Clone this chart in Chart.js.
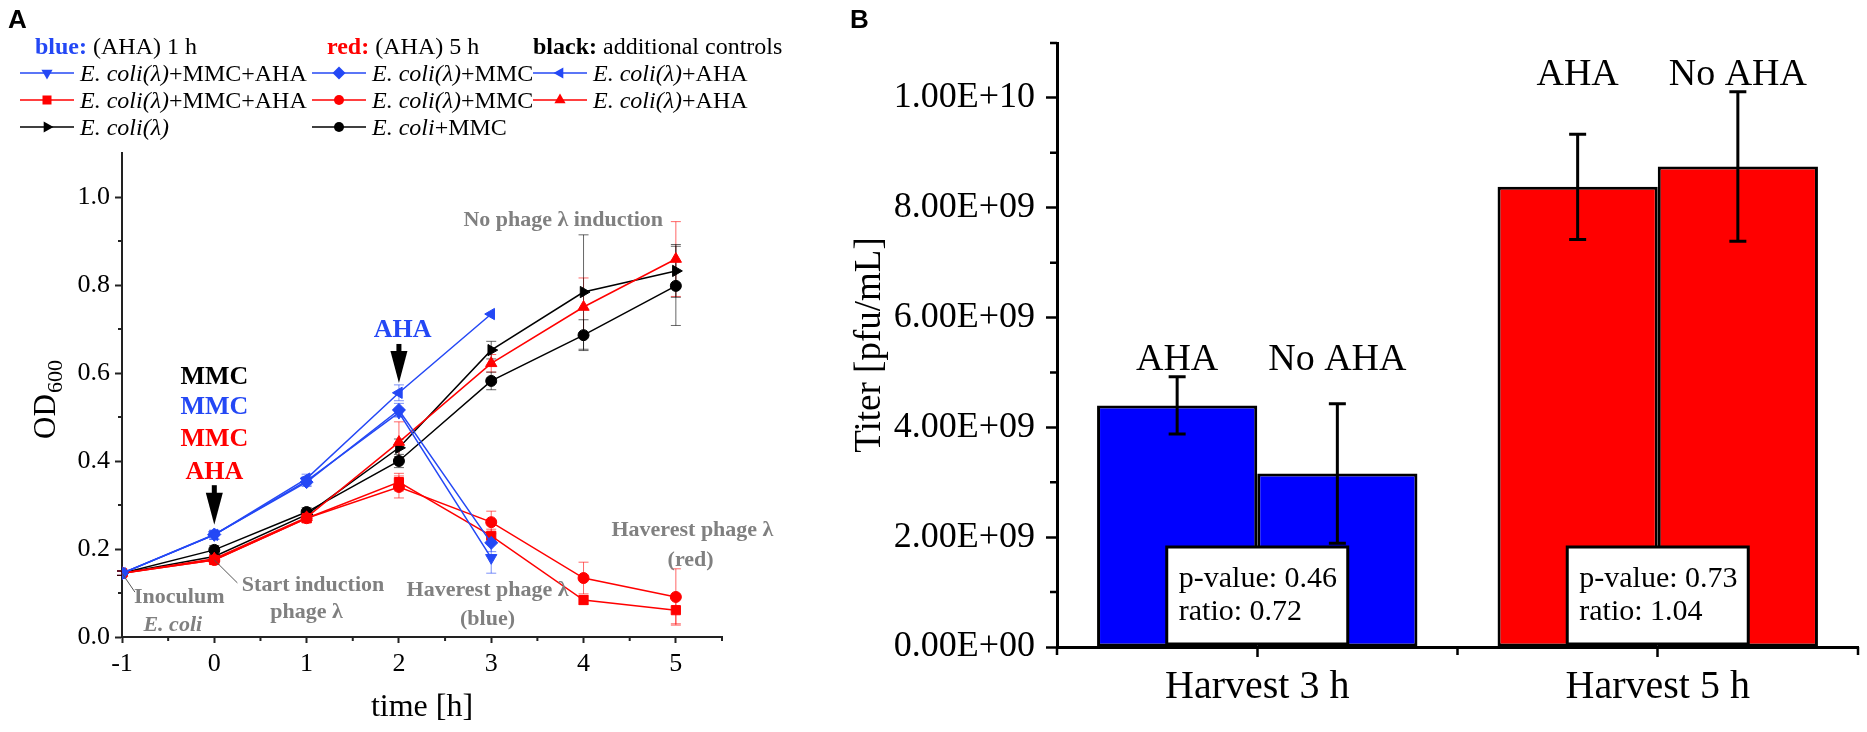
<!DOCTYPE html>
<html>
<head>
<meta charset="utf-8">
<script src="https://cdn.jsdelivr.net/npm/chart.js@4.4.0/dist/chart.umd.min.js"></script>
<style>
  html, body { margin: 0; padding: 0; background: #fff; }
  #page { position: relative; width: 1867px; height: 732px; overflow: hidden;
          font-family: 'Liberation Serif', 'Times New Roman', serif; color: #000; }
  #wrapA { position: absolute; left: 0; top: 0; width: 850px; height: 732px; }
  #wrapB { position: absolute; left: 820px; top: 0; width: 1047px; height: 732px; }
  .letter { position: absolute; font: bold 26px 'Liberation Sans', Arial, sans-serif; line-height: 26px; }
  #legendA { position: absolute; left: 0; top: 0; width: 850px; height: 150px; font-size: 24px; }
  .lg { position: absolute; white-space: nowrap; line-height: 26px; transform: translateY(-50%);
        display: flex; align-items: center; }
  .lg svg { margin-right: 6px; }
</style>
</head>
<body>
<div id="page">
  <div id="wrapA"><canvas id="chartA"></canvas></div>
  <div id="wrapB"><canvas id="chartB"></canvas></div>
  <div id="legendA"></div>
  <div class="letter" style="left:8px;top:6px">A</div>
  <div class="letter" style="left:850px;top:6px">B</div>
</div>
<script>
// ---- panel A: growth curves (OD600) ----
const hours = [-1, 0, 1, 2, 3, 4, 5];
const odTicks = [0, 0.2, 0.4, 0.6, 0.8, 1.0];

const blueMmcAha = [0.145, 0.232, 0.355, 0.510, 0.180];
const blueMmc    = [0.145, 0.233, 0.352, 0.516, 0.214];
const blueAha    = [0.145, 0.232, 0.360, 0.555, 0.734];
const redMmcAha  = [0.145, 0.175, 0.270, 0.352, 0.230, 0.084, 0.061];
const redMmc     = [0.145, 0.175, 0.270, 0.341, 0.261, 0.134, 0.091];
const redAha     = [0.145, 0.178, 0.272, 0.443, 0.622, 0.750, 0.859];
const ctrlLambda = [0.145, 0.183, 0.278, 0.430, 0.652, 0.784, 0.832];
const ctrlMmc    = [0.145, 0.198, 0.284, 0.400, 0.582, 0.686, 0.798];

// standard deviations
const blueMmcAhaErr = [0.005, 0.010, 0.010, 0.010, 0.035];
const blueMmcErr    = [0.005, 0.010, 0.010, 0.015, 0.020];
const blueAhaErr    = [0.005, 0.010, 0.010, 0.018, 0];
const redMmcAhaErr  = [0.005, 0.010, 0.010, 0.020, 0.015, 0.010, 0.031];
const redMmcErr     = [0.005, 0.010, 0.010, 0.025, 0.025, 0.036, 0.064];
const redAhaErr     = [0.005, 0.010, 0.010, 0.046, 0.020, 0.066, 0.085];
const ctrlLambdaErr = [0.005, 0.010, 0.010, 0.020, 0.020, 0.130, 0.060];
const ctrlMmcErr    = [0.005, 0.010, 0.010, 0.015, 0.020, 0.035, 0.090];

// ---- panel B: phage titer ----
const harvestLabels = ['Harvest 3 h', 'Harvest 5 h'];
const titerTicks = [0, 2e9, 4e9, 6e9, 8e9, 1e10];
const titerAha      = [4.40e9, 8.38e9];
const titerNoAha    = [3.16e9, 8.75e9];
const titerAhaErr   = [0.52e9, 0.96e9];
const titerNoAhaErr = [1.27e9, 1.36e9];
const pValues = [0.46, 0.73];
const ratios  = [0.72, 1.04];

const BLUE = '#2448f5';
const RED = '#ff0000';
const GREY = '#808080';
const SERIF = "'Liberation Serif', 'Times New Roman', serif";

Chart.defaults.font.family = SERIF;
Chart.defaults.color = '#000';

const pts = ys => ys.map((y, i) => ({ x: hours[i], y }));

function series(label, ys, errs, color, style, rot, r) {
  return {
    label, data: pts(ys), errors: errs,
    borderColor: color, backgroundColor: color,
    pointStyle: style, pointRotation: rot, pointRadius: r, pointHoverRadius: r,
    pointBorderWidth: 1, borderWidth: 1.5, tension: 0
  };
}

// draws vertical error bars from dataset.errors
function drawErrors(chart, width, cap, alpha) {
  const ctx = chart.ctx, ys = chart.scales.y;
  chart.data.datasets.forEach((ds, di) => {
    if (!ds.errors) return;
    const meta = chart.getDatasetMeta(di);
    ctx.save();
    ctx.strokeStyle = ds.errorColor || ds.borderColor;
    ctx.globalAlpha = alpha;
    ctx.lineWidth = width;
    meta.data.forEach((el, i) => {
      const e = ds.errors[i];
      if (!e) return;
      const v = typeof ds.data[i] === 'object' ? ds.data[i].y : ds.data[i];
      const t = ys.getPixelForValue(v + e), b = ys.getPixelForValue(v - e);
      ctx.beginPath();
      ctx.moveTo(el.x, t); ctx.lineTo(el.x, b);
      ctx.moveTo(el.x - cap, t); ctx.lineTo(el.x + cap, t);
      ctx.moveTo(el.x - cap, b); ctx.lineTo(el.x + cap, b);
      ctx.stroke();
    });
    ctx.restore();
  });
}

// annotations of panel A, in data units
const arrowsA = [
  { x: 0, from: 0.345, to: 0.255 },
  { x: 2, from: 0.666, to: 0.577 }
];
const leadersA = [
  { from: [-1, 0.145], to: [-0.86, 0.102] },
  { from: [0, 0.175], to: [0.25, 0.123] }
];
const notesA = [
  { text: 'MMC', x: 0, y: 0.590, color: '#000', font: 'bold 26px' },
  { text: 'MMC', x: 0, y: 0.523, color: BLUE, font: 'bold 26px' },
  { text: 'MMC', x: 0, y: 0.450, color: RED, font: 'bold 26px' },
  { text: 'AHA', x: 0, y: 0.375, color: RED, font: 'bold 26px' },
  { text: 'AHA', x: 2.04, y: 0.698, color: BLUE, font: 'bold 26px' },
  { text: 'No phage λ induction', x: 3.78, y: 0.948, color: GREY, font: 'bold 22px' },
  { text: 'Inoculum', x: -0.38, y: 0.091, color: GREY, font: 'bold 22px' },
  { text: 'E. coli', x: -0.45, y: 0.027, color: GREY, font: 'italic bold 22px' },
  { text: 'Start induction', x: 1.07, y: 0.118, color: GREY, font: 'bold 22px' },
  { text: 'phage λ', x: 1.0, y: 0.055, color: GREY, font: 'bold 22px' },
  { text: 'Haverest phage λ', x: 2.96, y: 0.107, color: GREY, font: 'bold 22px' },
  { text: '(blue)', x: 2.96, y: 0.041, color: GREY, font: 'bold 22px' },
  { text: 'Haverest phage λ', x: 5.18, y: 0.243, color: GREY, font: 'bold 22px' },
  { text: '(red)', x: 5.16, y: 0.175, color: GREY, font: 'bold 22px' }
];

const decorA = {
  id: 'decorA',
  beforeDatasetsDraw(chart) { drawErrors(chart, 1, 5, 0.6); },
  afterDraw(chart) {
    const { ctx, chartArea: ca } = chart;
    const xs = chart.scales.x, ys = chart.scales.y;
    ctx.save();
    // minor ticks
    ctx.strokeStyle = '#222'; ctx.lineWidth = 2;
    ctx.beginPath();
    for (let v = -0.5; v <= 5.5; v += 1) {
      const px = xs.getPixelForValue(v);
      ctx.moveTo(px, ca.bottom); ctx.lineTo(px, ca.bottom + 4);
    }
    for (let v = 0.1; v < 1.05; v += 0.2) {
      const py = ys.getPixelForValue(v);
      ctx.moveTo(ca.left, py); ctx.lineTo(ca.left - 4, py);
    }
    ctx.stroke();
    // leader lines
    ctx.strokeStyle = '#555'; ctx.lineWidth = 1;
    leadersA.forEach(l => {
      ctx.beginPath();
      ctx.moveTo(xs.getPixelForValue(l.from[0]), ys.getPixelForValue(l.from[1]));
      ctx.lineTo(xs.getPixelForValue(l.to[0]), ys.getPixelForValue(l.to[1]));
      ctx.stroke();
    });
    // arrows
    ctx.fillStyle = '#000';
    arrowsA.forEach(a => {
      const px = xs.getPixelForValue(a.x);
      const top = ys.getPixelForValue(a.from), tip = ys.getPixelForValue(a.to);
      const neck = tip - 32;
      ctx.fillRect(px - 2.5, top, 5, neck - top + 1);
      ctx.beginPath();
      ctx.moveTo(px - 8.5, neck); ctx.lineTo(px + 8.5, neck); ctx.lineTo(px, tip);
      ctx.closePath(); ctx.fill();
    });
    // notes
    ctx.textAlign = 'center'; ctx.textBaseline = 'middle';
    notesA.forEach(n => {
      ctx.font = n.font + ' ' + SERIF;
      ctx.fillStyle = n.color;
      ctx.fillText(n.text, xs.getPixelForValue(n.x), ys.getPixelForValue(n.y));
    });
    // y title OD600 with subscript
    ctx.translate(47, (ca.top + ca.bottom) / 2 + 5);
    ctx.rotate(-Math.PI / 2);
    ctx.fillStyle = '#000';
    ctx.textAlign = 'left';
    ctx.font = '31px ' + SERIF;
    const wOD = ctx.measureText('OD').width;
    ctx.font = '22px ' + SERIF;
    const wSub = ctx.measureText('600').width;
    const x0 = -(wOD + wSub) / 2;
    ctx.font = '31px ' + SERIF;
    ctx.fillText('OD', x0, 0);
    ctx.font = '22px ' + SERIF;
    ctx.fillText('600', x0 + wOD + 1, 9);
    ctx.restore();
  }
};

const chartA = new Chart(document.getElementById('chartA'), {
  type: 'line',
  data: {
    datasets: [
      series('E. coli(λ)+MMC+AHA', blueMmcAha, blueMmcAhaErr, BLUE, 'triangle', 180, 6.5),
      series('E. coli(λ)+MMC', blueMmc, blueMmcErr, BLUE, 'rectRot', 0, 6.5),
      series('E. coli(λ)+AHA', blueAha, blueAhaErr, BLUE, 'triangle', 270, 6.5),
      series('E. coli(λ)+MMC+AHA', redMmcAha, redMmcAhaErr, RED, 'rect', 0, 6.5),
      series('E. coli(λ)+MMC', redMmc, redMmcErr, RED, 'circle', 0, 5.5),
      series('E. coli(λ)+AHA', redAha, redAhaErr, RED, 'triangle', 0, 6.5),
      series('E. coli(λ)', ctrlLambda, ctrlLambdaErr, '#000', 'triangle', 90, 6.5),
      series('E. coli+MMC', ctrlMmc, ctrlMmcErr, '#000', 'circle', 0, 5.5)
    ]
  },
  options: {
    responsive: true, maintainAspectRatio: false, animation: false,
    layout: { padding: { top: 153, right: 128, left: 0, bottom: 0 } },
    plugins: { legend: { display: false }, tooltip: { enabled: false } },
    scales: {
      x: {
        type: 'linear', min: -1, max: 5.5,
        afterBuildTicks: s => { s.ticks = hours.map(v => ({ value: v })); },
        afterFit: s => { s.height = 95; },
        ticks: { font: { size: 26 }, padding: 6, color: '#000', callback: v => String(v) },
        grid: { drawOnChartArea: false, tickLength: 6, tickWidth: 2, tickColor: '#222' },
        border: { color: '#222', width: 2 },
        title: { display: true, text: 'time [h]', font: { size: 32 }, padding: { top: 0, bottom: 5 } }
      },
      y: {
        min: 0, max: 1.1,
        afterBuildTicks: s => { s.ticks = odTicks.map(v => ({ value: v })); },
        afterFit: s => { s.width = 122; },
        ticks: { font: { size: 26 }, padding: 5, color: '#000', callback: v => v.toFixed(1) },
        grid: { drawOnChartArea: false, tickLength: 7, tickWidth: 2, tickColor: '#222' },
        border: { color: '#222', width: 2 }
      }
    }
  },
  plugins: [decorA]
});

// ---- HTML legend for panel A ----
const legendRowY = [46, 73, 100, 127];
const headX = [35, 327, 533];
const colX = [20, 312, 533];
const legendSlots = [[0, 1], [1, 1], [2, 1], [0, 2], [1, 2], [2, 2], [0, 3], [1, 3]];
const groupHeads = [
  { key: 'blue:', text: '(AHA) 1 h', color: BLUE },
  { key: 'red:', text: '(AHA) 5 h', color: RED },
  { key: 'black:', text: 'additional controls', color: '#000' }
];

function markerSvg(ds) {
  const c = ds.borderColor, rot = ds.pointRotation || 0;
  let shape;
  if (ds.pointStyle === 'triangle') {
    shape = `<polygon points="0,-6.5 5.6,3.3 -5.6,3.3" fill="${c}" transform="translate(27,10) rotate(${rot})"/>`;
  } else if (ds.pointStyle === 'rectRot') {
    shape = `<polygon points="27,3.5 33.5,10 27,16.5 20.5,10" fill="${c}"/>`;
  } else if (ds.pointStyle === 'rect') {
    shape = `<rect x="22.5" y="5.5" width="9" height="9" fill="${c}"/>`;
  } else {
    shape = `<circle cx="27" cy="10" r="5" fill="${c}"/>`;
  }
  return `<svg width="54" height="20"><line x1="0" y1="10" x2="54" y2="10" stroke="${c}" stroke-width="1.5"/>${shape}</svg>`;
}

function buildLegend(chart) {
  let html = '';
  groupHeads.forEach((g, i) => {
    html += `<div class="lg" style="left:${headX[i]}px;top:${legendRowY[0]}px">` +
            `<b style="color:${g.color}">${g.key}</b>&nbsp;${g.text}</div>`;
  });
  chart.data.datasets.forEach((ds, i) => {
    const [c, r] = legendSlots[i];
    const k = ds.label.indexOf('+');
    const it = k < 0 ? ds.label : ds.label.slice(0, k);
    const rest = k < 0 ? '' : ds.label.slice(k);
    html += `<div class="lg" style="left:${colX[c]}px;top:${legendRowY[r]}px">` +
            markerSvg(ds) + `<span><i>${it}</i>${rest}</span></div>`;
  });
  document.getElementById('legendA').innerHTML = html;
}
buildLegend(chartA);

// ---- panel B ----
function fmtE(v) {
  if (v === 0) return '0.00E+00';
  const e = Math.floor(Math.log10(v) + 1e-9);
  const m = v / Math.pow(10, e);
  return m.toFixed(2) + 'E+' + String(e).padStart(2, '0');
}

const decorB = {
  id: 'decorB',
  afterDatasetsDraw(chart) {
    const { ctx, chartArea: ca } = chart;
    const xs = chart.scales.x, ys = chart.scales.y;
    drawErrors(chart, 3, 8.5, 1);
    ctx.save();
    // bar labels above the highest error bar of each group
    ctx.font = '38px ' + SERIF;
    ctx.textAlign = 'center'; ctx.textBaseline = 'alphabetic'; ctx.fillStyle = '#000';
    harvestLabels.forEach((_, i) => {
      let top = Infinity;
      chart.data.datasets.forEach(ds => {
        top = Math.min(top, ys.getPixelForValue(ds.data[i] + ds.errors[i]));
      });
      chart.data.datasets.forEach((ds, di) => {
        const el = chart.getDatasetMeta(di).data[i];
        ctx.fillText(ds.label, el.x, top - 7);
      });
    });
    // p-value boxes
    harvestLabels.forEach((_, i) => {
      const cx = xs.getPixelForValue(i);
      const w = 181, bottom = ca.bottom - 3, top = ca.bottom - 100;
      ctx.fillStyle = '#fff';
      ctx.fillRect(cx - w / 2, top, w, bottom - top);
      ctx.strokeStyle = '#000'; ctx.lineWidth = 3;
      ctx.strokeRect(cx - w / 2, top, w, bottom - top);
      ctx.fillStyle = '#000';
      ctx.font = '30px ' + SERIF;
      ctx.textAlign = 'left'; ctx.textBaseline = 'middle';
      ctx.fillText('p-value: ' + pValues[i].toFixed(2), cx - w / 2 + 12, top + 32);
      ctx.fillText('ratio: ' + ratios[i].toFixed(2), cx - w / 2 + 12, top + 65);
    });
    // minor ticks
    ctx.strokeStyle = '#000'; ctx.lineWidth = 2.5;
    ctx.beginPath();
    for (let v = 1e9; v <= 1.1e10 + 1; v += 2e9) {
      const py = ys.getPixelForValue(v);
      ctx.moveTo(ca.left, py); ctx.lineTo(ca.left - 7, py);
    }
    const p0 = xs.getPixelForValue(0), p1 = xs.getPixelForValue(1);
    [ca.left, (p0 + p1) / 2, ca.right].forEach(px => {
      ctx.moveTo(px, ca.bottom); ctx.lineTo(px, ca.bottom + 8);
    });
    ctx.stroke();
    ctx.restore();
  }
};

new Chart(document.getElementById('chartB'), {
  type: 'bar',
  data: {
    labels: harvestLabels,
    datasets: [
      { label: 'AHA', data: titerAha, errors: titerAhaErr, errorColor: '#000',
        backgroundColor: ['#0000ff', '#ff0000'], borderColor: '#000', borderWidth: 3, borderSkipped: false },
      { label: 'No AHA', data: titerNoAha, errors: titerNoAhaErr, errorColor: '#000',
        backgroundColor: ['#0000ff', '#ff0000'], borderColor: '#000', borderWidth: 3, borderSkipped: false }
    ]
  },
  options: {
    responsive: true, maintainAspectRatio: false, animation: false,
    layout: { padding: { top: 43, right: 9, left: 0, bottom: 0 } },
    datasets: { bar: { categoryPercentage: 0.8, barPercentage: 1.0 } },
    plugins: { legend: { display: false }, tooltip: { enabled: false } },
    scales: {
      x: {
        offset: true,
        afterFit: s => { s.height = 85; },
        ticks: { font: { size: 40 }, padding: 6, color: '#000' },
        grid: { offset: false, drawOnChartArea: false, tickLength: 10, tickWidth: 2.5, tickColor: '#000' },
        border: { color: '#000', width: 3 }
      },
      y: {
        min: 0, max: 1.1e10,
        afterBuildTicks: s => { s.ticks = titerTicks.map(v => ({ value: v })); },
        afterFit: s => { s.width = 237; },
        ticks: { font: { size: 36 }, padding: 11, color: '#000', callback: v => fmtE(v) },
        grid: { drawOnChartArea: false, tickLength: 11, tickWidth: 2.5, tickColor: '#000' },
        border: { color: '#000', width: 3 },
        title: { display: true, text: 'Titer [pfu/mL]', font: { size: 37 }, padding: { top: 28, bottom: 0 } }
      }
    }
  },
  plugins: [decorB]
});
</script>
</body>
</html>
